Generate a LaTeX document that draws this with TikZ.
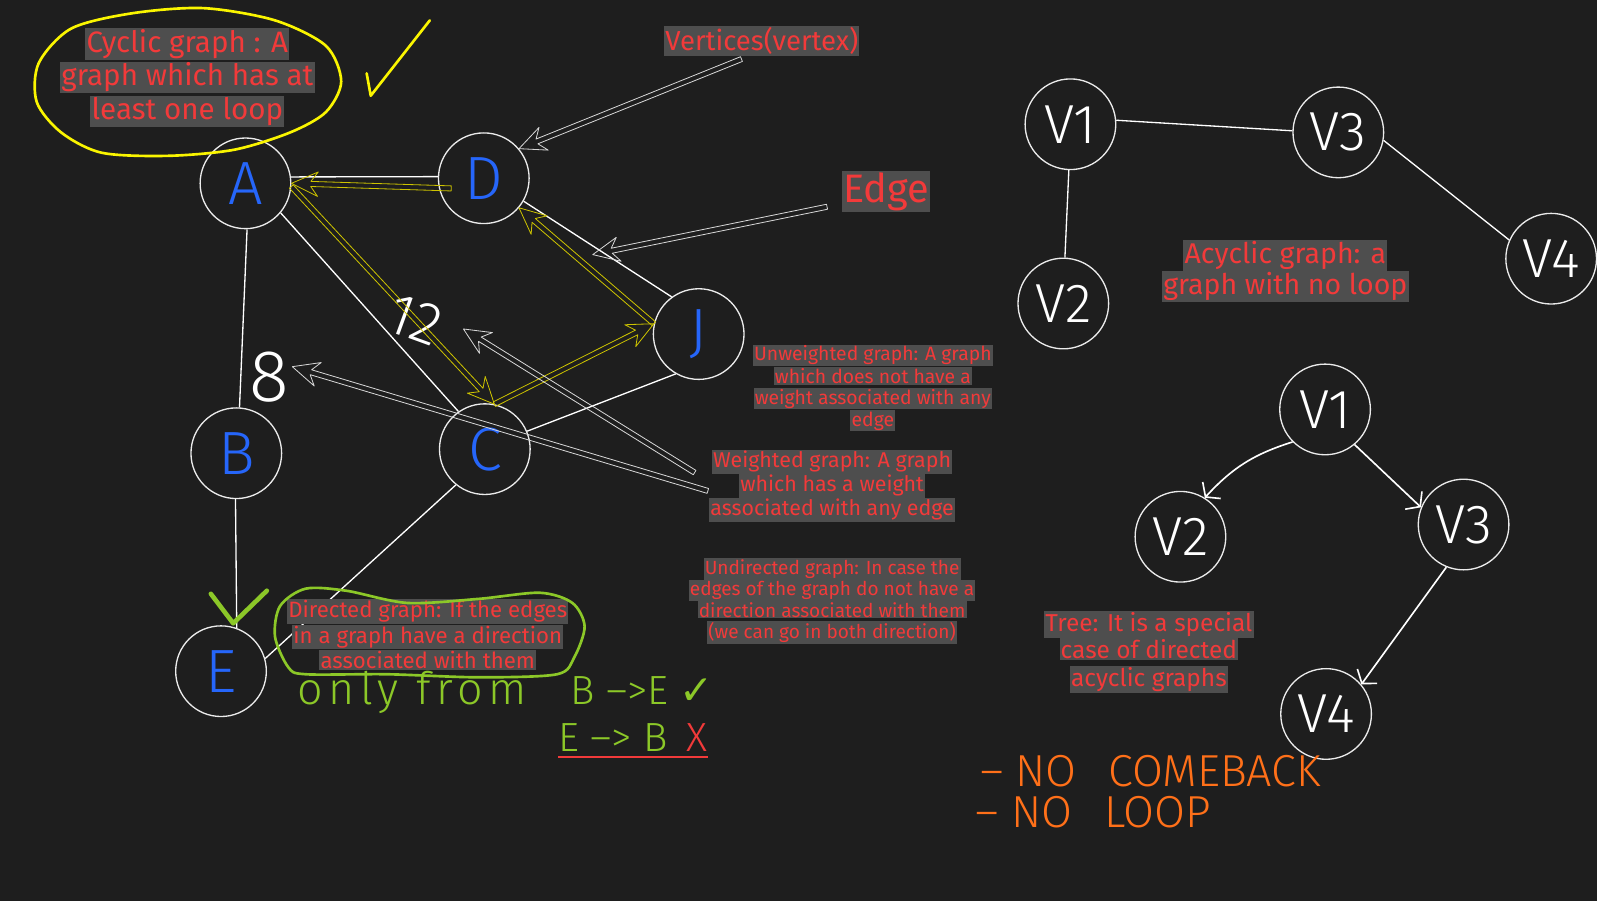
\documentclass[tikz,border=0pt]{standalone}
\usepackage{fontspec}
\setmainfont{Fira Sans}
\newfontfamily\handfont{Fira Sans Light}
\newfontfamily\symbfont{DejaVu Sans}
\usetikzlibrary{calc,arrows.meta}
\definecolor{board}{RGB}{30,30,30}
\definecolor{notered}{RGB}{242,58,58}
\definecolor{glowgray}{RGB}{78,78,78}
\definecolor{letterblue}{RGB}{38,102,250}
\definecolor{ringwhite}{RGB}{235,235,235}
\definecolor{markyellow}{RGB}{250,245,0}
\definecolor{arrowyellow}{RGB}{205,195,0}
\definecolor{markgreen}{RGB}{140,200,40}
\definecolor{markorange}{RGB}{255,112,25}
\definecolor{pointergray}{RGB}{215,215,215}
\def\gl#1{{\fboxsep=1.2pt\colorbox{glowgray}{#1}}}
\def\hollowarrow[#1](#2)(#3){\draw[#1] let \p1=(#2), \p2=(#3), \n1={atan2(\y2-\y1,\x2-\x1)}, \n2={veclen(\x2-\x1,\y2-\y1)} in [shift={(\p1)}, rotate=\n1] (0pt,2.5pt) -- ({\n2*1pt-19pt},2.5pt) -- ({\n2*1pt-26pt},12pt) -- ({\n2*1pt},0pt) -- ({\n2*1pt-26pt},-12pt) -- ({\n2*1pt-19pt},-2.5pt) -- (0pt,-2.5pt) -- cycle}
\tikzset{
  vtx/.style={circle, draw=ringwhite, line width=1.3pt, minimum size=89pt, inner sep=0pt, text=letterblue, font=\handfont\fontsize{60}{60}\selectfont},
  wvtx/.style={vtx, text=white, font=\handfont\fontsize{54}{54}\selectfont},
  link/.style={draw=white, line width=1.3pt},
  treelink/.style={link, line width=1.6pt, -{Straight Barb[length=9pt,width=24pt]}},
  yarrow/.style={draw=arrowyellow, line width=0.8pt, line join=round},
  pointer/.style={draw=pointergray, line width=0.8pt, line join=round},
  note/.style={text=notered, align=center, inner sep=0pt},
  weight/.style={text=white, font=\handfont\fontsize{58}{58}\selectfont},
  ink/.style={line width=2.6pt, line cap=round, line join=round},
  scrawl/.style={inner sep=0pt, anchor=base west, font=\handfont\fontsize{40}{40}\selectfont}
}

\begin{document}
\begin{tikzpicture}[x=1pt,y=-1pt]
			%%%%% START %%%%%
			
			\fill[board] (0,0) rectangle (1568,885);
			\useasboundingbox (0,0) rectangle (1568,885);
			
			\node[vtx] (A) at (241,180) {A};
			\node[vtx] (D) at (475,175) {D};
			\node[vtx] (J) at (686,328) {J};
			\node[vtx] (B) at (232,445) {B};
			\node[vtx] (C) at (476,441) {C};
			\node[vtx] (E) at (217,659) {E};
			
			\draw[link] (A.8) -- (D.178);
			\draw[link] (A.-88) -- (B.86);
			\draw[link] (A.-40) -- (C.125);
			\draw[link] (D.-30) -- (J.126);
			\draw[link] (C.23) -- (J.-120);
			\draw[link] (C.-129) -- (E.16);
			\draw[link] (B.-91) -- (E.70);
			
			\node[weight, rotate=-20] (w12) at (408,314) {12};
			\node[weight, font=\handfont\fontsize{72}{72}\selectfont] (w8) at (264,370) {8};
			
			\coordinate (dtail) at (443,185);
			\hollowarrow[yarrow](dtail)(A.east);
			\hollowarrow[yarrow](A.-4)(C.78);
			\hollowarrow[yarrow](C.78)(J.167);
			\hollowarrow[yarrow](J.167)(D.-40);
			
			\node[note, font=\fontsize{29}{33}\selectfont] (cyclic) at (184,76) {\gl{Cyclic graph : A}\\\gl{graph which has at}\\\gl{least one loop}};
			\draw[markyellow, ink] plot[smooth cycle] coordinates {(60,130) (36,100) (38,62) (70,28) (130,13) (200,8) (270,20) (320,45) (335,80) (320,110) (285,130) (230,147) (165,153) (100,150)};
			\draw[markyellow, ink] (360,72) -- (364,94) -- (422,20);
			
			\node[note, font=\fontsize{27}{31}\selectfont] (vert) at (748,40) {\gl{Vertices(vertex)}};
			\coordinate (vtail) at (728,58);
			\hollowarrow[pointer](vtail)(D.40);
			
			\node[note, font=\fontsize{39}{44}\selectfont] (edgenote) at (870,188) {\gl{Edge}};
			\coordinate (etail) at (812,203);
			\coordinate (etip) at (582,250);
			\hollowarrow[pointer](etail)(etip);
			
			\node[note, font=\fontsize{19}{20}\selectfont] (unw) at (857,381) {\gl{Unweighted graph: A graph}\\\gl{which does not have a}\\\gl{weight associated with any}\\\gl{edge}};
			\node[note, font=\fontsize{21}{23.5}\selectfont] (wgt) at (817,477) {\gl{Weighted graph: A graph}\\\gl{which has a weight}\\\gl{associated with any edge}};
			\coordinate (w12tail) at (682,464);
			\coordinate (w8tail) at (695,482);
			\coordinate (w12tip) at (455,323);
			\coordinate (w8tip) at (287,360);
			\hollowarrow[pointer](w12tail)(w12tip);
			\hollowarrow[pointer](w8tail)(w8tip);
			
			\node[note, font=\fontsize{18.7}{21}\selectfont] (undir) at (817,590) {\gl{Undirected graph: In case the}\\\gl{edges of the graph do not have a}\\\gl{direction associated with them}\\\gl{(we can go in both direction)}};
			
			\node[note, font=\fontsize{21.8}{25}\selectfont] (dir) at (420,623) {\gl{Directed graph: If the edges}\\\gl{in a graph have a direction}\\\gl{associated with them}};
			\draw[markgreen, ink] plot[smooth cycle] coordinates {(283,655) (270,625) (275,595) (300,578) (340,580) (400,592) (470,588) (530,582) (562,592) (574,615) (564,645) (547,662) (470,665) (380,662) (300,662)};
			\draw[markgreen, ink, line width=4.5pt] (207,583) -- (229,612) -- (262,580);
			
			\node[scrawl, text=markgreen, font=\handfont\fontsize{44}{44}\selectfont\addfontfeature{LetterSpace=12}] (only) at (292,692) {only from};
			\node[scrawl, text=markgreen] (be) at (560,692) {B –>E {\symbfont ✓}};
			\node[scrawl, text=markgreen] (eb) at (548,738) {E –> B};
			\node[scrawl, text=notered] (cross) at (674,738) {X};
			\draw[notered, line width=2pt] ([yshift=-5pt]eb.base west) -- ([yshift=-5pt]cross.base east);
			
			\node[wvtx] (av1) at (1051,122) {V1};
			\node[wvtx] (av3) at (1314,130) {V3};
			\node[wvtx] (av2) at (1044,298) {V2};
			\node[wvtx] (av4) at (1523,254) {V4};
			\draw[link] (av1.5) -- (av3.178);
			\draw[link] (av1.-92) -- (av2.88);
			\draw[link] (av3.-10) -- (av4.156);
			\node[note, font=\fontsize{28}{31}\selectfont] (acyc) at (1262,266) {\gl{Acyclic graph: a}\\\gl{graph with no loop}};
			
			\node[wvtx] (tv1) at (1301,402) {V1};
			\node[wvtx] (tv2) at (1159,527) {V2};
			\node[wvtx] (tv3) at (1437,515) {V3};
			\node[wvtx] (tv4) at (1302,701) {V4};
			\draw[treelink] (tv1.-135) to[bend right=15] (tv2.58);
			\draw[treelink] (tv1.-50) -- (tv3.158);
			\draw[treelink] (tv3.-112) -- (tv4.40);
			\node[note, font=\fontsize{24}{27}\selectfont] (tree) at (1128,640) {\gl{Tree: It is a special}\\\gl{case of directed}\\\gl{acyclic graphs}};
			
			\node[scrawl, text=markorange, font=\handfont\fontsize{44}{44}\selectfont] (nocome) at (962,772) {– NO\hspace{0.7em}COMEBACK};
			\node[scrawl, text=markorange, font=\handfont\fontsize{44}{44}\selectfont] (noloop) at (958,812) {– NO\hspace{0.7em}LOOP};
			
			%%%%% END %%%%%
\end{tikzpicture}
\end{document}
